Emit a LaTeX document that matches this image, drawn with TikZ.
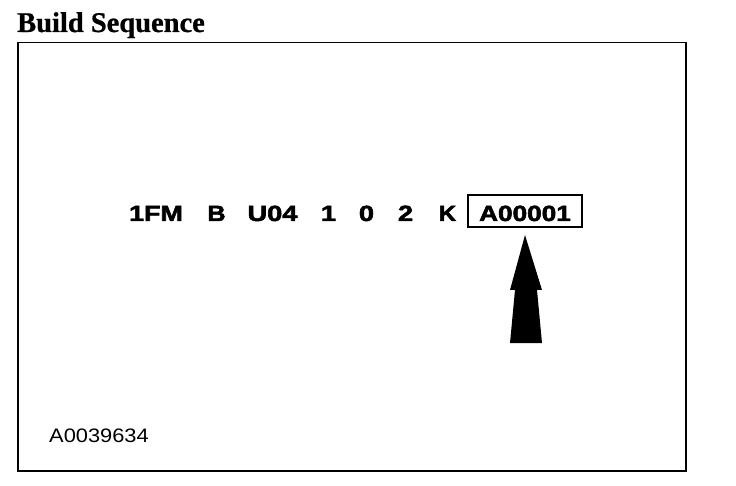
\documentclass[tikz,border=0pt]{standalone}
\usepackage{graphicx}
\usepackage{fontspec}
\setmainfont{Liberation Serif}[BoldFeatures={FakeBold=0.8}]
\newfontfamily\arialfont{Liberation Sans}[BoldFeatures={FakeBold=2.2}]
\begin{document}
\begin{tikzpicture}[x=1pt,y=-1pt,
  seq/.style={font=\arialfont\bfseries\fontsize{22}{22}\selectfont, anchor=base, inner sep=0pt},
  framebox/.style={draw, line width=1.6pt, inner sep=0pt},
  titletext/.style={font=\bfseries\fontsize{28.5}{28.5}\selectfont, anchor=base west, inner sep=0pt},
  idtext/.style={font=\arialfont\fontsize{19.5}{19.5}\selectfont, anchor=base west, inner sep=0pt}]
\useasboundingbox (0,0) rectangle (736,486);
% title
\node[titletext] (title) at (17,32) {Build Sequence};
% outer frame
\node[framebox, minimum width=668pt, minimum height=428.5pt] (frame) at (352,256.75) {};
% VIN groups
\node[seq] (g1) at (156,221) {\scalebox{1.22}[1]{1FM}};
\node[seq] (g2) at (216.5,221) {\scalebox{1.15}[1]{B}};
\node[seq] (g3) at (272.5,221) {\scalebox{1.24}[1]{U04}};
\node[seq] (g4) at (328.5,221) {\scalebox{1.24}[1]{1}};
\node[seq] (g5) at (366.5,221) {\scalebox{1.24}[1]{0}};
\node[seq] (g6) at (405.5,221) {\scalebox{1.24}[1]{2}};
\node[seq] (g7) at (447.5,221) {\scalebox{1.1}[1]{K}};
\node[seq] (g8) at (525,221) {\scalebox{1.19}[1]{A00001}};
\node[framebox, line width=1.9pt, minimum width=114pt, minimum height=32pt] (seqbox) at (525,211) {};
% arrow
\fill[black] (525,235) -- (542,290) -- (537,290) -- (542,343) -- (510,343) -- (515,290) -- (510,290) -- cycle;
% id
\node[idtext] (id) at (49,442) {\scalebox{1.12}[1]{A0039634}};
\end{tikzpicture}
\end{document}
